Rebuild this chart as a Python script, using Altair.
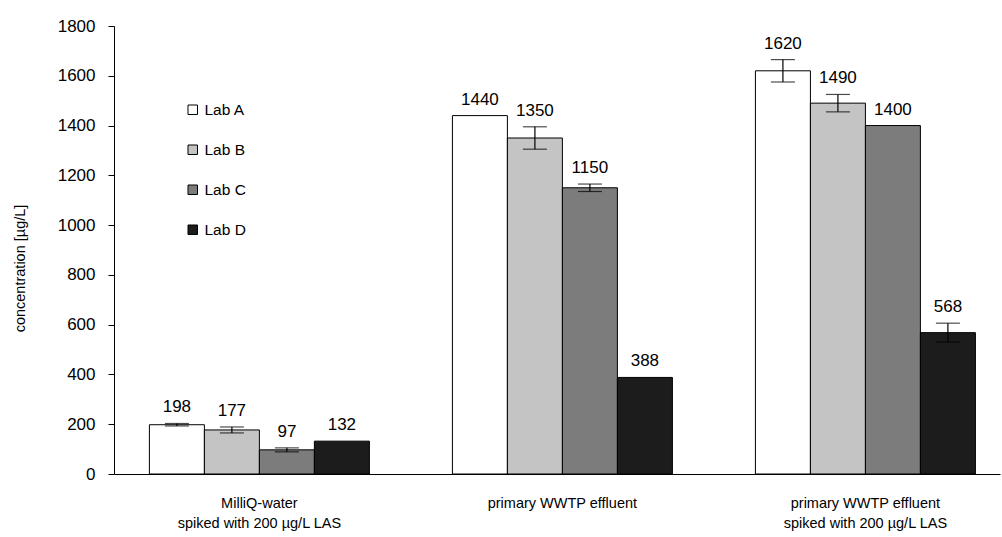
import altair as alt
import pandas as pd

groups = [
    "MilliQ-water|spiked with 200 µg/L LAS",
    "primary WWTP effluent",
    "primary WWTP effluent|spiked with 200 µg/L LAS",
]
labs = ["Lab A", "Lab B", "Lab C", "Lab D"]
lab_a = [198, 1440, 1620]
lab_b = [177, 1350, 1490]
lab_c = [97, 1150, 1400]
lab_d = [132, 388, 568]
err_a = [5, 0, 45]
err_b = [12, 45, 35]
err_c = [8, 15, 0]
err_d = [0, 0, 38]
fills = ["#ffffff", "#c4c4c4", "#7c7c7c", "#1c1c1c"]

rows = []
for lab, vals, errs in zip(labs, [lab_a, lab_b, lab_c, lab_d], [err_a, err_b, err_c, err_d]):
    for g, v, e in zip(groups, vals, errs):
        rows.append({"group": g, "lab": lab, "value": v, "lo": v - e, "hi": v + e,
                     "err": e, "label": str(v)})
df = pd.DataFrame(rows)

FONT = "Liberation Sans"

x = alt.X(
    "group:N",
    sort=groups,
    scale=alt.Scale(paddingInner=0.274, paddingOuter=0.099, align=0.59),
    axis=alt.Axis(
        title=None,
        labelExpr="split(datum.label, '|')",
        labelAngle=0,
        ticks=False,
        labelPadding=22,
        labelFontSize=14.5,
        labelLineHeight=20,
        labelBaseline="top",
        labelColor="#000000",
        domainColor="#000000",
        labelFont=FONT,
    ),
)
xo = alt.XOffset("lab:N", sort=labs, scale=alt.Scale(paddingInner=0, paddingOuter=0))

y_scale = alt.Scale(domain=[0, 1800], nice=False)

base = alt.Chart(df)

bars = base.mark_bar(stroke="#000000", strokeWidth=1).encode(
    x=x,
    xOffset=xo,
    y=alt.Y(
        "value:Q",
        scale=y_scale,
        axis=alt.Axis(
            values=list(range(0, 1801, 200)),
            format="d",
            grid=False,
            tickSize=6,
            labelPadding=13,
            labelFontSize=17,
            labelFont=FONT,
            labelColor="#000000",
            tickColor="#000000",
            domainColor="#000000",
            title="concentration [µg/L]",
            titleFontSize=14.5,
            titleFontWeight="normal",
            titleFont=FONT,
            titleColor="#000000",
            titleX=-94,
            titleY=242,
            titleAlign="center",
            titleBaseline="middle",
        ),
    ),
    color=alt.Color(
        "lab:N",
        sort=labs,
        scale=alt.Scale(domain=labs, range=fills),
        legend=alt.Legend(
            title=None,
            orient="none",
            legendX=71,
            legendY=76,
            symbolType="square",
            symbolSize=90,
            symbolStrokeColor="#000000",
            symbolStrokeWidth=1,
            symbolOpacity=1,
            labelFontSize=15.5,
            labelFont=FONT,
            labelColor="#000000",
            rowPadding=23,
            labelOffset=4,
        ),
    ),
)

err_base = base.transform_filter("datum.err > 0")
err = err_base.mark_rule(color="#000000", strokeWidth=1.2).encode(
    x=x, xOffset=xo, y=alt.Y("lo:Q", scale=y_scale), y2="hi:Q"
)
cap_hi = err_base.mark_tick(color="#000000", thickness=1.2, size=24, orient="horizontal").encode(
    x=x, xOffset=xo, y=alt.Y("hi:Q", scale=y_scale)
)
cap_lo = err_base.mark_tick(color="#000000", thickness=1.2, size=24, orient="horizontal").encode(
    x=x, xOffset=xo, y=alt.Y("lo:Q", scale=y_scale)
)
labels = base.mark_text(baseline="bottom", dy=-7, fontSize=17, font=FONT, color="#000000").encode(
    x=x, xOffset=xo, y=alt.Y("hi:Q", scale=y_scale), text="label:N"
)

chart = (
    alt.layer(bars, err, cap_hi, cap_lo, labels)
    .properties(
        width=886,
        height=448,
        autosize=alt.AutoSizeParams(type="none"),
        padding={"left": 114, "top": 26, "right": 2, "bottom": 63},
        background="#ffffff",
    )
    .configure_view(stroke=None)
)

chart.save("out.html", embed_options={"renderer": "svg", "actions": False})
